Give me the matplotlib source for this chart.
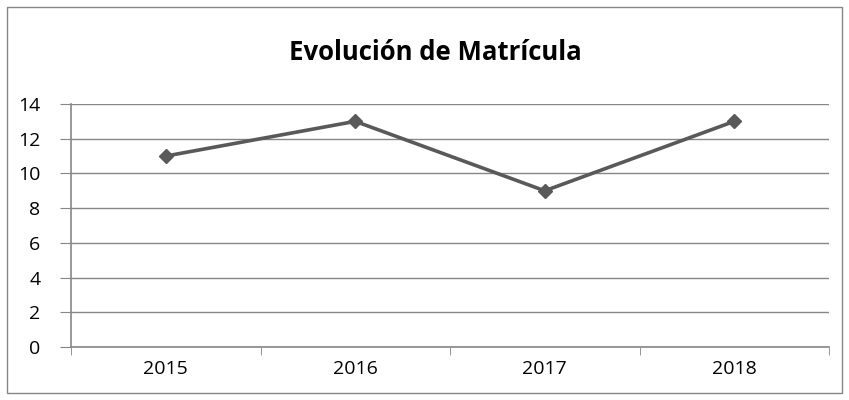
import matplotlib.pyplot as plt
from matplotlib.patches import Rectangle

years = ['2015', '2016', '2017', '2018']
matricula = [11, 13, 9, 13]
yticks = [0, 2, 4, 6, 8, 10, 12, 14]

plt.rcParams['font.family'] = ['Open Sans', 'DejaVu Sans']

fig = plt.figure(figsize=(8.49, 4.0), dpi=100)
ax = fig.add_axes([71/849, 53/400, 758/849, 243/400])

x = list(range(len(years)))
ax.plot(x, matricula, color='#595959', lw=2.6, marker='D', ms=7.5, mfc='#595959', mec='#595959')

ax.set_xlim(-0.5, len(years) - 0.5)
ax.set_ylim(0, 14)
ax.set_yticks(yticks)
ax.set_yticklabels([str(v) for v in yticks], fontsize=14)
ax.grid(axis='y', color='#868686', lw=1)
ax.set_axisbelow(True)

# category labels centered, tick marks on the boundaries
ax.set_xticks(x)
ax.set_xticklabels(years, fontsize=14)
ax.tick_params(axis='x', length=0, pad=9)
ax.set_xticks([i - 0.5 for i in range(len(years) + 1)], minor=True)
ax.tick_params(axis='x', which='minor', length=6, color='#868686', direction='out')
ax.tick_params(axis='y', length=8, color='#868686', pad=14)

for s in ['top', 'right']:
    ax.spines[s].set_visible(False)
ax.spines['left'].set_color('#868686')
ax.spines['bottom'].set_color('#868686')
ax.spines['left'].set_linewidth(1.2)
ax.spines['bottom'].set_linewidth(1.2)

fig.text(435/849, 1 - 52/400, 'Evolución de Matrícula', ha='center', va='center',
         fontsize=18.5, fontweight='bold')

fig.patches.append(Rectangle((7/849, 7/400), 835/849, 386/400, transform=fig.transFigure,
                             fill=False, edgecolor='#868686', lw=1))

fig.savefig('out.png', dpi=100)
